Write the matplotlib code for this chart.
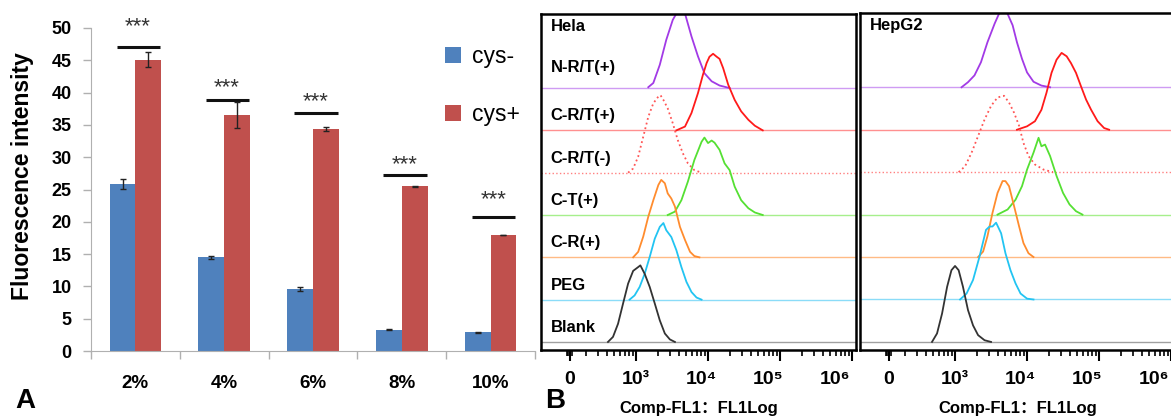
import numpy as np
import matplotlib.pyplot as plt
from matplotlib.ticker import NullFormatter

plt.rcParams['font.family'] = ['Liberation Sans', 'Noto Sans CJK SC']

# ---------- panel A data ----------
groups = ['2%', '4%', '6%', '8%', '10%']
cys_minus = [25.9, 14.5, 9.6, 3.3, 2.9]
cys_minus_err = [0.8, 0.2, 0.3, 0.12, 0.08]
cys_plus = [45.1, 36.5, 34.4, 25.5, 17.9]
cys_plus_err = [1.2, 2.0, 0.3, 0.1, 0.0]
sig_line_y = [47.0, 38.9, 36.9, 27.2, 20.7]
sig_star_y = [50.2, 40.8, 38.6, 28.8, 23.4]

# ---------- panel B data (log10 FL1, peak height in row units) ----------
row_names = ['N-R/T(+)', 'C-R/T(+)', 'C-R/T(-)', 'C-T(+)', 'C-R(+)', 'PEG', 'Blank']
row_colors = ['#a23ae6', '#ff1a1a', '#ff5555', '#55e033', '#ff8c2e', '#22c4f2', '#333333']
base_colors = ['#cf9cf3', '#ff9090', '#ff8080', '#a6ef8c', '#ffbb85', '#8bdcf8', '#a0a0a0']
row_styles = ['-', '-', ':', '-', '-', '-', '-']
tick_log = [2.08, 3, 4, 5, 6]
tick_names = ['0', '10³', '10⁴', '10⁵', '10⁶']

# Hela
hela_nrt_x = [3.17, 3.24, 3.33, 3.42, 3.51, 3.56, 3.62, 3.68, 3.77, 3.86, 3.95, 4.05, 4.16, 4.30]
hela_nrt_h = [0.02, 0.12, 0.55, 1.14, 1.61, 1.76, 1.90, 1.76, 1.22, 0.75, 0.35, 0.16, 0.06, 0.0]
hela_crt_x = [3.56, 3.68, 3.77, 3.86, 3.93, 3.98, 4.02, 4.07, 4.12, 4.16, 4.21, 4.28, 4.37, 4.46, 4.56, 4.65, 4.76]
hela_crt_h = [0.0, 0.09, 0.41, 0.88, 1.32, 1.59, 1.74, 1.81, 1.74, 1.69, 1.47, 1.08, 0.72, 0.45, 0.25, 0.11, 0.0]
hela_crtn_x = [2.89, 2.96, 3.03, 3.10, 3.17, 3.24, 3.31, 3.34, 3.38, 3.44, 3.51, 3.58, 3.65, 3.72, 3.81, 3.91]
hela_crtn_h = [0.0, 0.10, 0.38, 0.85, 1.32, 1.64, 1.80, 1.83, 1.72, 1.52, 1.17, 0.77, 0.46, 0.22, 0.06, 0.0]
hela_ct_x = [3.44, 3.54, 3.63, 3.72, 3.81, 3.91, 3.95, 4.00, 4.05, 4.09, 4.16, 4.23, 4.30, 4.37, 4.46, 4.56, 4.65, 4.76]
hela_ct_h = [0.0, 0.08, 0.35, 0.79, 1.30, 1.73, 1.83, 1.70, 1.76, 1.71, 1.54, 1.22, 1.06, 0.67, 0.35, 0.16, 0.06, 0.0]
hela_cr_x = [2.96, 3.03, 3.10, 3.17, 3.24, 3.31, 3.35, 3.40, 3.44, 3.49, 3.54, 3.61, 3.68, 3.75, 3.81, 3.88]
hela_cr_h = [0.0, 0.13, 0.49, 0.96, 1.35, 1.71, 1.83, 1.75, 1.51, 1.39, 1.20, 0.72, 0.41, 0.13, 0.03, 0.0]
hela_peg_x = [2.91, 2.98, 3.05, 3.12, 3.19, 3.26, 3.33, 3.38, 3.42, 3.49, 3.56, 3.63, 3.70, 3.77, 3.84, 3.91]
hela_peg_h = [0.0, 0.10, 0.30, 0.61, 1.01, 1.44, 1.72, 1.81, 1.64, 1.48, 1.17, 0.77, 0.42, 0.18, 0.05, 0.0]
hela_blank_x = [2.61, 2.68, 2.75, 2.82, 2.89, 2.96, 3.03, 3.06, 3.12, 3.19, 3.26, 3.33, 3.40, 3.47, 3.54]
hela_blank_h = [0.0, 0.12, 0.43, 0.91, 1.38, 1.68, 1.77, 1.81, 1.61, 1.30, 0.91, 0.51, 0.20, 0.06, 0.0]

# HepG2
hepg2_nrt_x = [3.09, 3.18, 3.27, 3.36, 3.45, 3.55, 3.61, 3.66, 3.73, 3.80, 3.86, 3.93, 4.00, 4.09, 4.20, 4.32]
hepg2_nrt_h = [0.0, 0.12, 0.28, 0.59, 1.06, 1.50, 1.73, 1.85, 1.73, 1.46, 1.06, 0.67, 0.35, 0.13, 0.04, 0.0]
hepg2_crt_x = [3.86, 4.00, 4.11, 4.20, 4.27, 4.34, 4.41, 4.48, 4.55, 4.61, 4.68, 4.75, 4.82, 4.89, 4.98, 5.07, 5.14]
hepg2_crt_h = [0.0, 0.08, 0.20, 0.47, 0.87, 1.34, 1.65, 1.81, 1.73, 1.57, 1.34, 1.02, 0.71, 0.47, 0.20, 0.04, 0.0]
hepg2_crtn_x = [3.05, 3.14, 3.23, 3.32, 3.41, 3.50, 3.59, 3.68, 3.75, 3.82, 3.89, 3.95, 4.02, 4.11, 4.23, 4.36]
hepg2_crtn_h = [0.0, 0.14, 0.46, 0.85, 1.24, 1.56, 1.76, 1.80, 1.64, 1.40, 1.09, 0.69, 0.38, 0.18, 0.06, 0.0]
hepg2_ct_x = [3.59, 3.73, 3.84, 3.93, 4.00, 4.09, 4.16, 4.20, 4.25, 4.32, 4.41, 4.50, 4.59, 4.68, 4.77]
hepg2_ct_h = [0.0, 0.12, 0.35, 0.67, 1.06, 1.46, 1.81, 1.61, 1.65, 1.38, 0.91, 0.51, 0.24, 0.08, 0.0]
hepg2_cr_x = [3.32, 3.39, 3.45, 3.52, 3.59, 3.66, 3.70, 3.75, 3.82, 3.89, 3.95, 4.02, 4.09]
hepg2_cr_h = [0.0, 0.13, 0.49, 1.04, 1.51, 1.79, 1.79, 1.67, 1.20, 0.72, 0.33, 0.09, 0.0]
hepg2_peg_x = [3.07, 3.16, 3.25, 3.34, 3.43, 3.48, 3.52, 3.57, 3.64, 3.70, 3.77, 3.84, 3.91, 4.00, 4.09]
hepg2_peg_h = [0.0, 0.14, 0.46, 1.01, 1.64, 1.72, 1.72, 1.81, 1.56, 1.09, 0.69, 0.38, 0.14, 0.02, 0.0]
hepg2_blank_x = [2.68, 2.75, 2.82, 2.89, 2.95, 3.00, 3.05, 3.11, 3.18, 3.25, 3.32, 3.41, 3.50]
hepg2_blank_h = [0.0, 0.20, 0.67, 1.30, 1.69, 1.79, 1.69, 1.30, 0.75, 0.39, 0.16, 0.04, 0.0]

hela_curves = [(hela_nrt_x, hela_nrt_h), (hela_crt_x, hela_crt_h), (hela_crtn_x, hela_crtn_h),
               (hela_ct_x, hela_ct_h), (hela_cr_x, hela_cr_h), (hela_peg_x, hela_peg_h),
               (hela_blank_x, hela_blank_h)]
hepg2_curves = [(hepg2_nrt_x, hepg2_nrt_h), (hepg2_crt_x, hepg2_crt_h), (hepg2_crtn_x, hepg2_crtn_h),
                (hepg2_ct_x, hepg2_ct_h), (hepg2_cr_x, hepg2_cr_h), (hepg2_peg_x, hepg2_peg_h),
                (hepg2_blank_x, hepg2_blank_h)]

W, H = 1171, 416
fig = plt.figure(figsize=(W / 100, H / 100), dpi=100)

# ================= panel A =================
axA = fig.add_axes([91 / W, 65 / H, 444 / W, 323 / H])
x = np.arange(len(groups))
bw = 0.29
axA.bar(x - bw / 2, cys_minus, bw, color='#4f81bd', label='cys-', zorder=2)
axA.bar(x + bw / 2, cys_plus, bw, color='#c0504d', label='cys+', zorder=2)
axA.errorbar(x - bw / 2, cys_minus, yerr=cys_minus_err, fmt='none', ecolor='#222222',
             elinewidth=1, capsize=2.5, capthick=1, zorder=3)
axA.errorbar(x + bw / 2, cys_plus, yerr=cys_plus_err, fmt='none', ecolor='#222222',
             elinewidth=1, capsize=2.5, capthick=1, zorder=3)
for i in range(len(groups)):
    axA.plot([x[i] - 0.21, x[i] + 0.28], [sig_line_y[i]] * 2, color='#111111', lw=2.2,
             clip_on=False, solid_capstyle='butt')
    axA.text(x[i] + 0.03, sig_star_y[i], '***', ha='center', va='center', fontsize=16,
             color='#333333', clip_on=False)

axA.set_xlim(-0.5, len(groups) - 0.5)
axA.set_ylim(0, 50)
axA.set_yticks(np.arange(0, 51, 5))
axA.set_xticks(x)
axA.set_xticklabels(groups, fontweight='bold', fontsize=13.5)
axA.set_xticks(np.arange(-0.5, len(groups)), minor=True)
axA.tick_params(axis='x', which='major', length=0, pad=17)
axA.tick_params(axis='x', which='minor', length=6, color='#b0b0b0', width=1)
axA.tick_params(axis='y', length=6, color='#b0b0b0', width=1, pad=8, labelsize=13)
for lab in axA.get_yticklabels():
    lab.set_fontweight('bold')
for s in ['top', 'right']:
    axA.spines[s].set_visible(False)
for s in ['left', 'bottom']:
    axA.spines[s].set_color('#b0b0b0')
axA.legend(loc='upper left', bbox_to_anchor=(0.777, 0.975), borderaxespad=0, frameon=False,
           fontsize=16.5, handlelength=0.7, handleheight=0.7, handletextpad=0.45,
           labelspacing=1.5)
fig.text(23 / W, 1 - 176 / H, 'Fluorescence intensity', rotation=90, ha='center',
         va='center', fontsize=16.5, fontweight='bold')
fig.text(15 / W, 1 - 408 / H, 'A', fontsize=20, fontweight='bold', va='baseline')


# ================= panel B =================
def flow_panel(ax, curves, title, show_names):
    for k, ((lx, hh), col, bcol, ls) in enumerate(zip(curves, row_colors, base_colors, row_styles)):
        base = len(curves) - 1 - k
        ax.axhline(base, color=bcol, lw=1.0, ls=ls, zorder=1)
        ax.plot(np.power(10.0, lx), base + np.array(hh), color=col, lw=1.3, ls=ls, zorder=2)
        if show_names:
            off = 0.48 if k == 0 else 0.34
            ax.text(0.03, base + off, row_names[k], transform=ax.get_yaxis_transform(),
                    ha='left', va='center', fontsize=12, fontweight='bold')
    ax.text(0.03, 7.45, title, transform=ax.get_yaxis_transform(), ha='left',
            va='center', fontsize=12, fontweight='bold')
    ax.set_xscale('log')
    ax.set_yticks([])
    ticks = np.power(10.0, tick_log)
    ax.set_xticks(ticks)
    ax.set_xticklabels([''] * len(ticks))
    minor = [m * 10.0 ** d for d in range(2, 6) for m in range(2, 10)]
    ax.set_xticks(minor + [10 ** 2.04, 10 ** 2.06, 10 ** 2.11], minor=True)
    ax.xaxis.set_minor_formatter(NullFormatter())
    ax.set_xlim(10 ** 1.68, 10 ** 6.055)
    ax.set_ylim(-0.19, 7.75)
    # the higher decade labels sit a little left of their ticks
    for t, name, dx in zip(ticks, tick_names, [0, 0, -7, -12, -17]):
        ax.annotate(name, xy=(t, 0), xycoords=ax.get_xaxis_transform(), xytext=(dx, -30),
                    textcoords='offset pixels', ha='center', va='center',
                    fontsize=14, fontweight='bold', annotation_clip=False)
    ax.tick_params(axis='x', which='major', length=8, width=1.5)
    ax.tick_params(axis='x', which='minor', length=4, width=1.2)
    for s in ax.spines.values():
        s.set_linewidth(1.8)
    ax.set_xlabel('Comp-FL1：FL1Log', fontsize=12, fontweight='bold')
    ax.xaxis.set_label_coords(0.5, -0.152)


axB1 = fig.add_axes([541 / W, 66 / H, 315 / W, 336 / H])
flow_panel(axB1, hela_curves, 'Hela', True)
axB2 = fig.add_axes([860 / W, 66 / H, 315 / W, 337 / H])
flow_panel(axB2, hepg2_curves, 'HepG2', False)
fig.text(545 / W, 1 - 408 / H, 'B', fontsize=20, fontweight='bold', va='baseline')

fig.savefig('out.png', dpi=100)
